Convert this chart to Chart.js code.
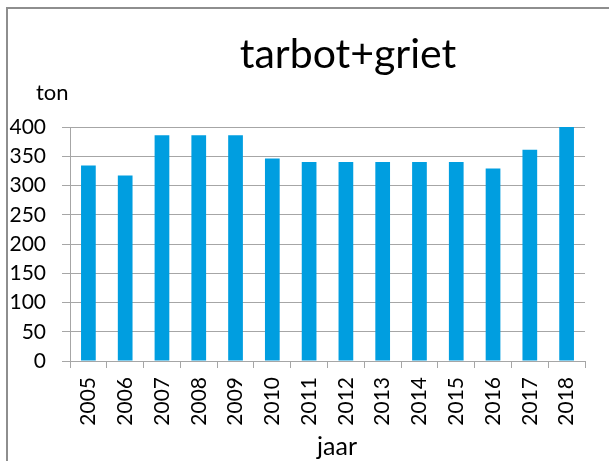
<!DOCTYPE html>
<html>
<head>
<meta charset="utf-8">
<script src="https://cdn.jsdelivr.net/npm/chart.js@4/dist/chart.umd.min.js"></script>
<style>
  html, body { margin: 0; padding: 0; background: #fff; overflow: hidden; }
  #wrap { position: relative; width: 609px; height: 461px; }
  #frame { position: absolute; left: 6px; top: 7px; width: 700px; height: 600px; border: 2px solid #8e8e8e; }
  canvas { position: absolute; left: 0; top: 0; }
</style>
</head>
<body>
<div id="wrap">
  <div id="frame"></div>
  <canvas id="c" width="609" height="461"></canvas>
</div>
<script>
// Jaarlijkse aanlanding tarbot + griet (ton)
const years = ['2005', '2006', '2007', '2008', '2009', '2010', '2011', '2012', '2013', '2014', '2015', '2016', '2017', '2018'];
const tonnage = [334, 317, 386, 386, 386, 346, 340, 340, 340, 340, 340, 329, 361, 400];
const yMin = 0;
const yMax = 400;
const yStep = 50;
const chartTitle = 'tarbot+griet';
const unitLabel = 'ton';
const axisLabel = 'jaar';

const FONT = 'Lato';
const GRID = '#a6a6a6';
const BAR = '#009ee0';
const INK = '#000';

// Title, unit and axis captions drawn on the canvas
const captions = {
  id: 'captions',
  afterDraw(chart) {
    const ctx = chart.ctx;
    ctx.save();
    ctx.fillStyle = INK;
    ctx.textBaseline = 'alphabetic';
    ctx.textAlign = 'center';
    ctx.font = '41px ' + FONT;
    ctx.fillText(chartTitle, 348, 68);
    ctx.textAlign = 'left';
    ctx.font = '22px ' + FONT;
    ctx.fillText(unitLabel, 36, 100);
    ctx.textAlign = 'center';
    ctx.font = '25px ' + FONT;
    ctx.fillText(axisLabel, 337, 455);
    ctx.restore();
  }
};

new Chart(document.getElementById('c'), {
  type: 'bar',
  data: {
    labels: years,
    datasets: [{
      data: tonnage,
      backgroundColor: BAR,
      borderWidth: 0,
      barPercentage: 0.4,
      categoryPercentage: 1.0
    }]
  },
  options: {
    responsive: false,
    animation: false,
    devicePixelRatio: 1,
    layout: { padding: { top: 127, right: 24, bottom: 0, left: 0 } },
    plugins: {
      legend: { display: false },
      title: { display: false },
      tooltip: { enabled: false }
    },
    scales: {
      x: {
        afterFit(scale) { scale.height = 100; },
        grid: { display: true, drawOnChartArea: false, drawTicks: true, tickLength: 7, color: GRID, lineWidth: 1 },
        border: { display: true, color: GRID, width: 1 },
        ticks: {
          autoSkip: false,
          minRotation: 90,
          maxRotation: 90,
          padding: 9,
          color: INK,
          font: { family: FONT, size: 21 }
        }
      },
      y: {
        min: yMin,
        max: yMax,
        afterFit(scale) { scale.width = 70; },
        grid: { color: GRID, lineWidth: 1, tickLength: 8 },
        border: { display: true, color: GRID, width: 1 },
        ticks: {
          stepSize: yStep,
          padding: 16,
          color: INK,
          font: { family: FONT, size: 21 }
        }
      }
    }
  },
  plugins: [captions]
});
</script>
</body>
</html>
